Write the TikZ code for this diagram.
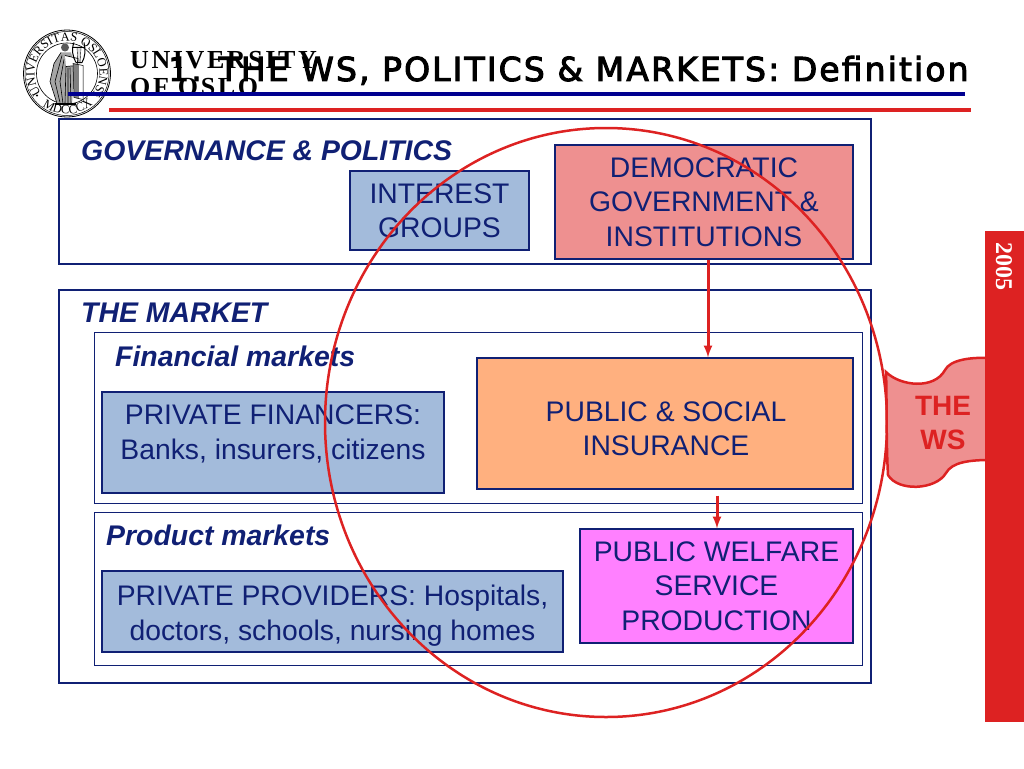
\documentclass[tikz,border=0pt]{standalone}
\usepackage{fontspec}
\setmainfont{Liberation Sans}
\newfontfamily\uiofont[LetterSpace=10]{Liberation Serif}
\newfontfamily\sealfont{Liberation Serif}
\newfontfamily\titlefont[FakeBold=3,LetterSpace=6.4]{DejaVu Sans}
\usetikzlibrary{shapes.geometric}
\usetikzlibrary{decorations.text}
\definecolor{framenavy}{RGB}{16,32,116}
\definecolor{rulenavy}{RGB}{0,0,144}
\definecolor{wsred}{RGB}{221,34,34}
\definecolor{wspink}{RGB}{238,144,144}
\definecolor{groupblue}{RGB}{163,187,219}
\definecolor{insureorange}{RGB}{255,176,127}
\definecolor{welfaremagenta}{RGB}{255,128,255}
\tikzset{
    outerframe/.style={draw=framenavy, line width=2.5pt, minimum width=812pt, inner sep=0pt},
    innerframe/.style={draw=framenavy, line width=1pt, minimum width=768pt, inner sep=0pt},
    actorbox/.style={draw=framenavy, line width=1.2pt, inner sep=0pt, text=framenavy, align=center,
        font=\fontsize{28.3}{34.4}\selectfont},
    boxtext/.style={text=framenavy, align=center, inner sep=0pt, font=\fontsize{28.3}{34.4}\selectfont},
    heading/.style={anchor=west, inner sep=0pt, text=framenavy, font=\fontsize{28.4}{32}\selectfont\bfseries\itshape},
    flow/.style={draw=wsred, line width=3pt, -latex},
}
\begin{document}
\begin{tikzpicture}[x=1pt, y=-1pt]
    \useasboundingbox (0,0) rectangle (1024,768);

    % Seal
    \begin{scope}[shift={(67,73.5)}, y=1pt]
        \draw[line width=0.8pt] (0,0) circle (43.5);
        \draw[line width=0.5pt] (0,0) circle (42);
        \draw[line width=0.6pt] (0,0) circle (30.5);
        \path[decorate, decoration={text along path, text align=fit to path,
            text={|\sealfont\fontsize{12.5}{13}\selectfont|UNIVERSITAS OSLOENSIS}}]
            (217:32.5) arc[start angle=217, end angle=-37, radius=32.5];
        \path[decorate, decoration={text along path, text align=fit to path,
            text={|\sealfont\fontsize{12.5}{13}\selectfont|MDCCCXI}}]
            (233:40.5) arc[start angle=233, end angle=307, radius=40.5];
        \fill (-30,-22) circle (1.2);
        \fill (30,-22) circle (1.2);
        % Figure with lyre
        \fill[black!65] (-2,26) circle (4);
        \fill[black!35] (-6,21) -- (4,21) -- (8,8) -- (5,-30) -- (-10,-30) -- (-17,-8) -- (-13,10) -- cycle;
        \draw[black, line width=0.6pt] (-6,21) -- (-13,10) -- (-17,-8) -- (-10,-30)
            (-5,18) -- (-12,-8) -- (-7,-29) (-3,14) -- (-7,-8) -- (-4,-30) (-1,8) -- (-2,-30)
            (1,6) -- (1,-30) (3,6) -- (4,-30);
        \fill[white] (-2,18) -- (11,15) -- (10,8) -- (-1,7) -- cycle;
        \draw[black, line width=0.7pt] (-2,18) -- (11,15) -- (10,8) -- (-1,7);
        \draw[black, line width=1pt] (7,31) .. controls (4,24) and (6,16) .. (9,11)
            (17,31) .. controls (19,24) and (18,16) .. (15,11) (6,26) -- (18,26) (9,11) -- (15,11);
        \draw[black, line width=0.4pt] (10,26) -- (11,11) (12,26) -- (12,11) (14,26) -- (13,11);
        \fill[black!50] (6,10) -- (16,8) -- (16,-26) -- (7,-24) -- cycle;
        \fill[white] (12,9) -- (16,8) -- (16,-26) -- (12,-25) -- cycle;
        \draw[black, line width=0.5pt] (6,10) -- (16,8) -- (16,-26) -- (7,-24) -- cycle;
        \fill[black] (-12,-29.5) rectangle (9,-31);
    \end{scope}

    % University name
    \node[anchor=base west, inner sep=0pt, font=\uiofont\bfseries\fontsize{26}{28}\selectfont] (uioline) at (130,68) {UNIVERSITY};
    \node[anchor=base west, inner sep=0pt, font=\uiofont\bfseries\fontsize{26}{28}\selectfont] (uiosecond) at (130,95) {OF OSLO};

    % Title and rules
    \node[anchor=base west, inner sep=0pt, font=\titlefont\fontsize{33}{36}\selectfont] (title) at (168,81) {1. THE WS, POLITICS \& MARKETS: Definition};
    \fill[rulenavy] (68,92) rectangle (965,96);
    \fill[wsred] (109,108) rectangle (971,112);

    % Governance
    \node[outerframe, minimum height=145pt] (governance) at (465,191.5) {};
    \node[heading] (governancetitle) at (81,151) {GOVERNANCE \& POLITICS};
    \node[actorbox, fill=groupblue, minimum width=179pt, minimum height=79pt] (interest) at (439.5,210.5) {INTEREST\\GROUPS};
    \node[actorbox, fill=wspink, minimum width=298pt, minimum height=114pt] (democratic) at (704,202) {DEMOCRATIC\\GOVERNMENT \&\\INSTITUTIONS};

    % Market
    \node[outerframe, minimum height=393pt] (market) at (465,486.5) {};
    \node[heading] (markettitle) at (81,313) {THE MARKET};
    \node[innerframe, minimum height=171pt] (financial) at (478,417.5) {};
    \node[heading] (financialtitle) at (115,356) {Financial markets};
    \node[innerframe, minimum height=153pt] (product) at (478,588.5) {};
    \node[heading] (producttitle) at (106,535) {Product markets};

    % Financial markets
    \node[actorbox, fill=groupblue, minimum width=342pt, minimum height=101pt] (financers) at (273,442.5) {};
    \node[boxtext] (financerstext) at (273,434) {PRIVATE FINANCERS:\\Banks, insurers, citizens};
    \node[actorbox, fill=insureorange, minimum width=376pt, minimum height=131pt] (insurance) at (665,423.5) {};
    \node[boxtext] (insurancetext) at (666,429) {PUBLIC \& SOCIAL\\INSURANCE};

    % Product markets
    \node[actorbox, fill=groupblue, minimum width=461pt, minimum height=81pt] (providers) at (332.5,611.5) {};
    \node[boxtext] (providerstext) at (332.5,615.5) {PRIVATE PROVIDERS: Hospitals,\\doctors, schools, nursing homes};
    \node[actorbox, fill=welfaremagenta, minimum width=273pt, minimum height=114pt] (welfare) at (716.5,586) {PUBLIC WELFARE\\SERVICE\\PRODUCTION};

    % Arrows
    \draw[flow] ([xshift=4pt]democratic.south) -- ([xshift=43pt]insurance.north);
    \draw[flow, shorten <=6pt] ([xshift=52pt]insurance.south) -- ([xshift=0.5pt]welfare.north);

    % The WS
    \node[draw=wsred, line width=2.5pt, ellipse, inner sep=0pt, minimum width=562pt, minimum height=589pt] (wsring) at (606,422.5) {};
    \draw[draw=wsred, fill=wspink, line width=2.5pt] (886,372)
        .. controls (900,386) and (934,390) .. (945,370)
        .. controls (950,360) and (970,357) .. (990,358)
        -- (990,460)
        .. controls (970,460) and (952,462) .. (946,473)
        .. controls (936,490) and (898,492) .. (888,475)
        .. controls (886,440) and (887,400) .. cycle;
    \node[inner sep=0pt, align=center, text=wsred, font=\bfseries\fontsize{28}{34}\selectfont] (wstext) at (943,423) {THE\\WS};
    \node[fill=wsred, inner sep=0pt, minimum width=39pt, minimum height=491pt] (sidebar) at (1004.5,476.5) {};
    \node[rotate=-90, inner sep=0pt, text=white, font=\sealfont\bfseries\fontsize{24}{26}\selectfont] (year) at (1004,266) {2005};
\end{tikzpicture}
\end{document}
